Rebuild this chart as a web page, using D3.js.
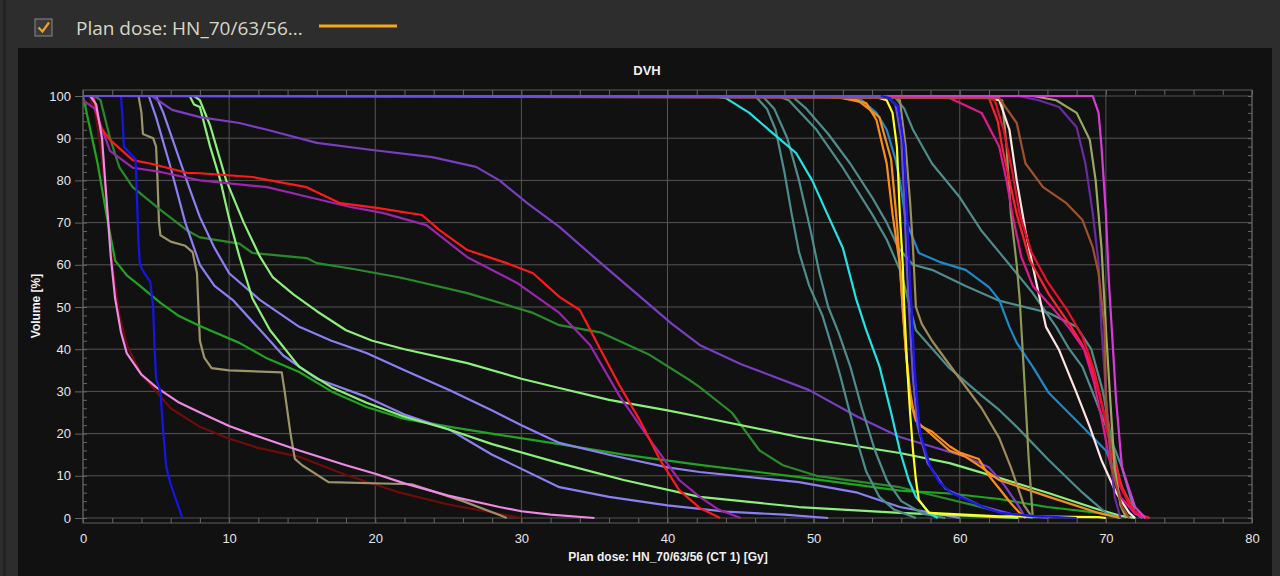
<!DOCTYPE html>
<html>
<head>
<meta charset="utf-8">
<script src="https://cdn.jsdelivr.net/npm/d3@7"></script>
<style>
  html, body { margin: 0; padding: 0; background: #2d2d2d; }
  body { width: 1280px; height: 576px; overflow: hidden; }
  svg text { font-family: "Liberation Sans", Arial, sans-serif; }
</style>
</head>
<body>
<div id="dvh"></div>
<script>
// tick values
var doseTicks = [0, 10, 20, 30, 40, 50, 60, 70, 80];
var volumeTicks = [0, 10, 20, 30, 40, 50, 60, 70, 80, 90, 100];

// DVH curves: [dose Gy, volume %]
var darkRed = [[0.4,100],[0.8,97],[1.2,88],[1.6,75],[2,60],[2.5,48],[3,41],[4,34],[5,30],[6,26],[8,21.6],[10,18.8],[12,16.6],[14.8,14.5],[18,10.2],[21.7,6],[25,3.2],[28.5,1],[30,0]];
var khakiStep = [[3.8,100],[4,96],[4.1,91],[4.8,90],[5,88],[5.1,80],[5.2,70],[5.3,67],[6,65.5],[7,64.5],[7.5,63],[7.8,58],[7.9,50],[8,42],[8.3,38],[8.8,35.5],[10,35],[13.6,34.5],[13.8,30],[14.2,20],[14.5,14],[15,12.5],[16.8,8.5],[22.5,8],[26,4],[28.5,0.7],[29,0]];
var greenDark = [[0.8,100],[1.2,99],[1.85,90],[2.5,83],[3.4,78.4],[5.3,73],[7.1,68.2],[8,66.5],[10.7,65],[11.6,62.8],[15.3,61.6],[16,60.4],[18.5,59],[21.7,57],[26.3,53.3],[30.8,48.6],[32.6,45.7],[35.4,44],[38.8,38.6],[41.5,32.7],[42.2,31],[44.4,25],[46.3,16],[47.9,12.5],[50.2,10],[55.9,7.3],[58,5.5],[61,3],[63,1.2],[65,0]];
var greenMid = [[0,100],[0.5,92],[1,84],[1.6,72],[2.2,61],[3,57.5],[3.9,55],[5.3,51],[6.5,48],[8,45.5],[10.7,41.5],[12.5,38],[14.8,34.6],[17,30],[19.4,26.3],[22,23.5],[25.1,21.6],[28.5,19.7],[32.6,17.5],[37,15],[42.2,12.6],[49,9.7],[55.9,6.5],[59.3,5.8],[62.7,4.5],[66,2.6],[69.5,1.2],[71,0]];
var lavenderA = [[4.5,100],[5,95],[6,83],[7,70],[8,60],[9,55],[10.3,51.5],[12,45],[13.7,38.5],[16,33],[19.4,28.7],[22,24.5],[25.1,20.9],[28,15],[32.6,7.3],[36,5],[40,3],[44,1.5],[48,0.8],[51,0]];
var lavenderB = [[5,100],[5.5,96],[6.5,86],[7.3,78],[8,71.3],[9,64],[10,58],[12.1,51.7],[14.8,45.3],[17,42],[19.4,39.1],[22,35],[25.1,30.3],[28,25.5],[30,22],[32.6,17.8],[36,15],[40,12],[42.2,10.9],[49,8.5],[53,6],[55.9,2.6],[58.1,1.2],[60,0]];
var lightGreenA = [[7.3,100],[7.6,98],[8,97.4],[8.7,88],[9.4,80],[10,71],[10.7,62],[11.6,52],[12.8,44.5],[14.8,35.8],[17,31],[19.4,27.3],[22,24],[25.1,20.9],[28,17.5],[32.6,13],[37,9],[42.2,5],[49,2.6],[55.9,1.2],[62.7,0.2],[64,0]];
var lightGreenB = [[7.6,100],[8,99],[8.7,93],[9.8,80],[11,70],[12.1,62],[13,57],[14.4,53],[16,49],[18,44.5],[19.8,42],[22,40],[26.3,36.7],[30,33],[32.6,30.8],[36,28],[40,25.5],[42.2,24],[49,19.2],[55.9,15.4],[59.3,13],[62.7,9.5],[66,6],[69.5,2],[71,0.5],[72,0]];
var darkMagenta = [[0,99],[0.8,97],[1.85,87],[3.4,83],[5.3,82],[8,80],[12.6,78.4],[15.5,76],[18.3,73.7],[20.5,72.3],[23.5,69.4],[26.3,61.8],[29.7,55.7],[32.6,48.6],[34.7,41],[36.7,29],[38.8,18.5],[40.8,9],[42.2,5],[43.5,2],[45,0]];
var redLow = [[0.7,100],[1.2,92.6],[1.85,89.6],[3.4,84.8],[4.6,84],[7.1,81.8],[8,81.7],[11.6,80.8],[15.3,78.4],[17.6,74.6],[20.1,73.5],[23.2,71.8],[24.4,68.2],[26.3,63.5],[29,60.4],[30.8,58],[32.6,52.4],[34,49.3],[35.4,40],[36.7,31.5],[38.1,23.2],[39.5,13.7],[40.8,6.6],[42.2,2.4],[43.6,0]];
var purpleMid = [[4.7,100],[6.1,96.7],[8,95],[10.7,93.6],[12.6,92],[16,88.9],[19.8,87.2],[23.9,85.5],[26.9,83.2],[28.5,80],[30.4,74.6],[32.6,69],[35.4,60.5],[38.1,52.5],[40.3,46],[42.2,41],[45,36.5],[49.7,30.3],[53,24],[55.9,19.2],[60.4,14.5],[62,12],[63,8],[64,3],[64.5,0]];
var pink = [[0.5,100],[0.9,98],[1.3,90],[1.6,76],[1.9,62],[2.2,52],[2.6,44],[3,39],[4,34],[5,31],[6.5,27.5],[8,25],[10,21.8],[12,19.3],[14.8,16],[18,12.5],[20,10.5],[22,8.2],[25,5.3],[28.5,2.6],[30,1.6],[32,0.8],[35,0]];
var blueLow = [[2.6,100],[2.7,95],[2.8,88],[3.2,86.5],[3.6,85],[3.7,75],[3.8,65],[3.9,60],[4.2,58],[4.6,56],[4.8,50],[4.9,40],[5,33],[5.3,30],[5.5,20],[5.7,12],[6,8],[6.4,4],[6.8,0]];
var tealA = [[46,100],[46.8,97],[47.4,92],[48,82],[48.5,72],[49,63],[49.7,55],[50.6,48],[51.3,40],[51.8,34],[52.4,26],[53,18],[53.6,11],[54.5,5],[55.5,2],[57,0]];
var tealB = [[46.5,100],[47.3,97],[48.2,90],[49,80],[49.8,68],[50.4,58],[51,50],[51.7,44],[52.5,36],[53.3,26],[54.2,16],[55,9],[56,4],[57.5,1],[59,0]];
var tealC = [[47.5,100],[48.3,99],[50.2,92],[52,83],[54,72],[55,66],[56,58],[57,44.5],[59.3,35.5],[61.5,29],[62.7,25.6],[63.9,21.6],[66.1,13.7],[68.4,6],[70,1.2],[71,0]];
var tealD = [[48.5,100],[49.5,97],[51,91],[52.5,84],[54,76],[55,70],[55.8,64],[56.8,60],[58.1,58.8],[60.4,55],[62.7,51.5],[66.1,48.6],[68,45.3],[69,40],[69.8,30],[70.4,18],[71,8],[71.8,2],[72.5,0]];
var cyan = [[43,100],[44,99.5],[45.6,96],[47.2,91.2],[48.8,86.5],[49.9,80],[50.9,72.3],[52,64],[52.9,52],[53.6,44.5],[54.5,36],[55.3,25],[55.9,16],[56.5,9],[57,5],[57.9,1.2],[58.5,0]];
var steelBlue = [[52,100],[53.3,99],[54.3,96],[55,92],[55.6,85],[55.9,80],[56.3,70.6],[57.2,62.8],[58.6,60.7],[60.4,58.8],[62,54.7],[62.7,51.7],[63.4,45.3],[63.9,41.5],[65,35.8],[66.1,29.6],[68.4,21.6],[70,16],[71.1,7.3],[72,1.2],[72.5,0]];
var tealE = [[55.5,100],[56.2,97],[56.8,92],[58.1,84],[60,76],[61.5,68],[62.7,63],[65,53.3],[66.6,45.3],[67.5,40],[68.4,35.8],[69.3,28],[70.2,20],[71.1,12],[72,1.2],[72.5,0]];
var khaki56 = [[55.5,100],[55.9,99],[56.3,88],[56.6,75],[56.8,64],[57,50],[57.4,46],[58.1,42],[60,33],[61.5,26],[62.7,19],[63.5,12],[64,7],[64.4,3],[64.8,1],[65,0]];
var orangeA = [[50,100],[52,99.5],[53.6,98.3],[54.3,94.3],[55,84],[55.4,72],[55.9,60],[56.1,49],[56.3,40],[56.6,30],[56.8,26],[57.2,22],[58.1,20.5],[59.3,17],[60,15.5],[61.3,14],[62,10],[62.7,7],[63.5,3.5],[64.1,1.2],[64.5,0]];
var orangeB = [[51,100],[53,99],[54.5,95],[55.3,85],[55.7,70],[56,55],[56.3,40],[56.6,28],[57,23],[58,20],[59.3,16],[60.4,14.5],[61.5,12],[62.7,9],[66.1,5],[69.5,1.2],[71,0]];
var yellow = [[54,100],[55,99],[55.4,96],[55.7,88],[55.9,72],[56.1,60],[56.2,50],[56.4,36],[56.6,25],[56.8,16],[57,9],[57.2,4.3],[57.9,1.2],[62.7,0.4],[69.5,0.2],[70,0]];
var olive63 = [[61,100],[62.9,99],[63.2,88],[63.5,72],[63.9,60],[64.1,52],[64.3,40],[64.5,28],[64.7,15],[64.9,5],[65,0]];
var white = [[61.5,100],[62.7,99],[63.4,92],[63.9,80],[64.5,68],[65.2,56.4],[65.9,45.3],[66.8,39.8],[68,29.6],[68.9,21.6],[69.7,13.7],[70.7,6],[71.6,1.2],[72,0]];
var redA = [[61,100],[62,99.5],[62.6,94],[62.9,88],[63.4,80],[63.9,72],[64.8,61],[66.1,53],[67.5,46],[68.4,41],[69,36],[69.5,30],[70,23],[70.4,16],[71.1,7.3],[72,1.2],[73,0]];
var redB = [[61.5,100],[62.4,99],[63,92],[63.6,82],[64.1,72],[64.9,63],[66,56],[67.4,49],[68.4,43],[69.2,35],[69.8,26],[70.3,17],[70.9,8],[71.8,2],[72.8,0]];
var deepPink = [[58,100],[59.3,99.5],[61.5,96],[62.7,88],[63.2,80],[63.6,72],[64.2,62],[65,55],[66.3,50],[67.5,45],[68.5,40],[69.2,32],[69.8,22],[70.3,13],[71,5],[72,1],[72.7,0]];
var purple70 = [[64,100],[65.4,99],[66.8,97.4],[68,92.6],[68.6,84],[69.1,72.3],[69.5,60.4],[69.7,45],[70,30],[70.3,15],[70.6,5],[71,0]];
var olive70 = [[65,100],[66.6,99],[68,96],[68.9,89.6],[69.3,80],[69.7,64],[70,45],[70.3,28],[70.6,12],[71,3],[71.4,0]];
var magenta70 = [[0,100],[69.1,100],[69.5,96],[69.7,88],[70,72.3],[70.2,56.4],[70.4,45],[70.7,28],[71.1,12],[72,2.6],[72.7,0]];
var brown = [[0,100],[62.7,99.5],[63.9,93.6],[64.5,84],[65.7,78.4],[67.3,74.6],[68.4,70.6],[69.1,64.2],[69.5,58],[69.9,45.3],[70,28],[70.4,12],[71.1,2.6],[71.6,0]];
var bodyPurple = [[0,100],[55,100],[55.6,98],[56,90],[56.2,75],[56.4,58],[56.6,45],[56.8,33],[57.1,22],[57.8,13],[59,7],[61.5,2.8],[63.5,1],[66,0]];
var blueHigh = [[54.6,100],[55.2,99.5],[55.8,97.4],[56.2,88],[56.4,72],[56.6,56],[56.7,50],[56.9,36],[57.1,27],[57.3,20],[58,12],[58.6,8.5],[59.4,6],[61.6,2.6],[62.8,1.2],[65,0.5],[68,0]];

// draw order: first is drawn underneath
var series = [
  {data: darkRed, color: "#6e0c0c"},
  {data: khakiStep, color: "#9c9468"},
  {data: greenDark, color: "#2a8a2a"},
  {data: greenMid, color: "#1fa51f"},
  {data: lavenderA, color: "#8a80f2"},
  {data: lavenderB, color: "#8a80f2"},
  {data: lightGreenA, color: "#8cf07a"},
  {data: lightGreenB, color: "#8cf07a"},
  {data: darkMagenta, color: "#9a26ae"},
  {data: redLow, color: "#ff1a1a"},
  {data: purpleMid, color: "#7a3ec2"},
  {data: pink, color: "#ec8ae4"},
  {data: blueLow, color: "#1616e8"},
  {data: tealA, color: "#4f8c8c"},
  {data: tealB, color: "#4f8c8c"},
  {data: tealC, color: "#4f8c8c"},
  {data: tealD, color: "#4f8c8c"},
  {data: cyan, color: "#22e4e4"},
  {data: steelBlue, color: "#1e88c8"},
  {data: tealE, color: "#4f8c8c"},
  {data: khaki56, color: "#a08c5a"},
  {data: orangeA, color: "#ff8c1a"},
  {data: orangeB, color: "#f09020"},
  {data: yellow, color: "#ffff22"},
  {data: olive63, color: "#8c9a58"},
  {data: white, color: "#ffe4e4"},
  {data: redA, color: "#ff2030"},
  {data: redB, color: "#e8102a"},
  {data: deepPink, color: "#e0188c"},
  {data: purple70, color: "#6a2aa0"},
  {data: olive70, color: "#9aa860"},
  {data: magenta70, color: "#d83cd8"},
  {data: brown, color: "#a0522d"},
  {data: bodyPurple, color: "#6a50d8"},
  {data: blueHigh, color: "#1a1ae8"}
];

var svgWidth = 1280;
var svgHeight = 576;

var svg = d3.select("#dvh")
    .append("svg")
    .attr("width", svgWidth)
    .attr("height", svgHeight);

// window chrome
svg.append("rect").attr("x", 0).attr("y", 0).attr("width", svgWidth).attr("height", svgHeight).attr("fill", "#2d2d2d");
svg.append("rect").attr("x", 3).attr("y", 0).attr("width", 3).attr("height", svgHeight).attr("fill", "#232323");
svg.append("rect").attr("x", 18).attr("y", 48).attr("width", 1254).attr("height", 528).attr("fill", "#111111");

// header: checkbox, plan name, legend swatch
svg.append("rect").attr("x", 35).attr("y", 19).attr("width", 17).attr("height", 17)
    .attr("fill", "#3a3a3a").attr("stroke", "#8a8a8a").attr("stroke-width", 1);
svg.append("path").attr("d", "M38.5,27.5 L42.5,31.5 L49,22.5")
    .attr("fill", "none").attr("stroke", "#f0a030").attr("stroke-width", 2.2);
svg.append("text").attr("x", 76).attr("y", 35)
    .style("font-family", "'Open Sans', 'Noto Sans', sans-serif")
    .style("font-size", "19px").attr("fill", "#d8d6c8")
    .text("Plan dose: HN_70/63/56...");
svg.append("line").attr("x1", 319).attr("x2", 397).attr("y1", 26).attr("y2", 26)
    .attr("stroke", "#f5a623").attr("stroke-width", 3);

// scales
var xScale = d3.scaleLinear().domain([0, 80]).range([83, 1252]);
var yScale = d3.scaleLinear().domain([0, 100]).range([518, 96]);
var plotTop = 90, plotBottom = 523;

var chartGroup = svg.append("g");

// grid
chartGroup.append("g").selectAll("line")
    .data(volumeTicks)
    .enter().append("line")
    .attr("x1", xScale(0)).attr("x2", xScale(80))
    .attr("y1", d => yScale(d)).attr("y2", d => yScale(d))
    .attr("stroke", "#545454").attr("stroke-width", 1);
chartGroup.append("g").selectAll("line")
    .data(doseTicks)
    .enter().append("line")
    .attr("x1", d => xScale(d)).attr("x2", d => xScale(d))
    .attr("y1", plotTop).attr("y2", plotBottom)
    .attr("stroke", "#545454").attr("stroke-width", 1);

// frame
chartGroup.append("rect")
    .attr("x", xScale(0)).attr("y", plotTop)
    .attr("width", xScale(80) - xScale(0)).attr("height", plotBottom - plotTop)
    .attr("fill", "none").attr("stroke", "#5e5e5e").attr("stroke-width", 1);

// minor ticks on all four sides
var minorVol = d3.range(0, 101, 2);
var minorDose = d3.range(0, 81, 2);
function styleAxis(g) {
    g.select(".domain").remove();
    g.selectAll(".tick line").attr("stroke", "#666");
}
chartGroup.append("g").attr("transform", `translate(${xScale(0)},0)`)
    .call(d3.axisLeft(yScale).tickValues(minorVol).tickSize(-4).tickFormat(""))
    .call(styleAxis);
chartGroup.append("g").attr("transform", `translate(${xScale(80)},0)`)
    .call(d3.axisRight(yScale).tickValues(minorVol).tickSize(-4).tickFormat(""))
    .call(styleAxis);
chartGroup.append("g").attr("transform", `translate(0,${plotBottom})`)
    .call(d3.axisBottom(xScale).tickValues(minorDose).tickSize(-5).tickFormat(""))
    .call(styleAxis);
chartGroup.append("g").attr("transform", `translate(0,${plotTop})`)
    .call(d3.axisTop(xScale).tickValues(minorDose).tickSize(-5).tickFormat(""))
    .call(styleAxis);

// major axes with labels
var leftAxis = d3.axisLeft(yScale).tickValues(volumeTicks).tickSize(8).tickPadding(4);
var yAxis = chartGroup.append("g")
    .attr("transform", `translate(${xScale(0)},0)`)
    .call(leftAxis);
yAxis.select(".domain").remove();
yAxis.selectAll(".tick line").attr("stroke", "#666");
yAxis.selectAll("text").attr("fill", "#e6e6e6").style("font-size", "13px");

var bottomAxis = d3.axisBottom(xScale).tickValues(doseTicks).tickSize(0).tickPadding(11);
var xAxis = chartGroup.append("g")
    .attr("transform", `translate(0,${plotBottom})`)
    .call(bottomAxis);
xAxis.select(".domain").remove();
xAxis.selectAll("text").attr("fill", "#e6e6e6").style("font-size", "13px");

// DVH curves
var line = d3.line()
    .x(d => xScale(d[0]))
    .y(d => yScale(d[1]));

svg.append("clipPath").attr("id", "plotClip")
    .append("rect").attr("x", xScale(0)).attr("y", plotTop)
    .attr("width", xScale(80) - xScale(0)).attr("height", plotBottom - plotTop);

chartGroup.append("g").attr("clip-path", "url(#plotClip)")
    .selectAll("path")
    .data(series)
    .enter().append("path")
    .attr("d", d => line(d.data))
    .attr("fill", "none")
    .attr("stroke", d => d.color)
    .attr("stroke-width", 2.2)
    .attr("stroke-linejoin", "round");

// titles
svg.append("text").attr("x", 647).attr("y", 75).attr("text-anchor", "middle")
    .attr("fill", "#f0f0f0").style("font-size", "13px").style("font-weight", "bold")
    .text("DVH");
svg.append("text").attr("x", 668).attr("y", 561).attr("text-anchor", "middle")
    .attr("fill", "#f0f0f0").style("font-size", "12px").style("font-weight", "bold")
    .text("Plan dose: HN_70/63/56 (CT 1) [Gy]");
svg.append("text")
    .attr("transform", "translate(40,306) rotate(-90)")
    .attr("text-anchor", "middle")
    .attr("fill", "#f0f0f0").style("font-size", "12px").style("font-weight", "bold")
    .text("Volume [%]");
</script>
</body>
</html>
